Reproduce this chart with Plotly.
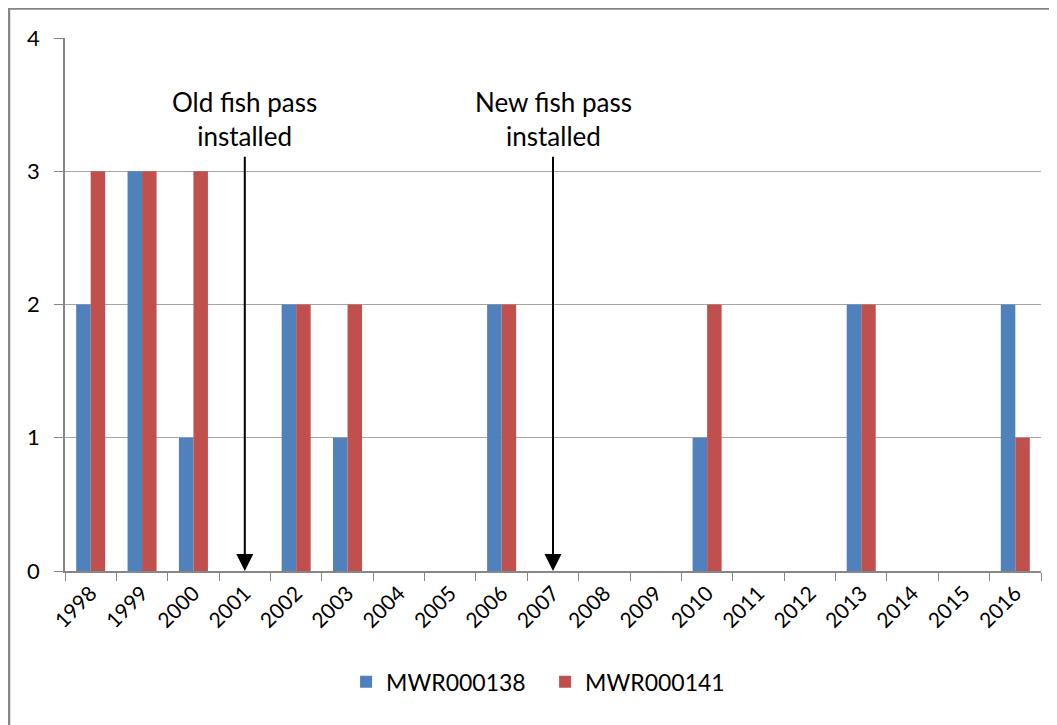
import plotly.graph_objects as go

years = [str(y) for y in range(1998, 2017)]
mwr138 = [2, 3, 1, 0, 2, 1, 0, 0, 2, 0, 0, 0, 1, 0, 0, 2, 0, 0, 2]
mwr141 = [3, 3, 3, 0, 2, 2, 0, 0, 2, 0, 0, 0, 2, 0, 0, 2, 0, 0, 1]
events = [("2001", "Old fish pass<br>installed"), ("2007", "New fish pass<br>installed")]

FONT = "Lato"
W, H = 1057, 725
L, R, T, B = 57, 24, 30, 162
pw, ph = W - L - R, H - T - B

fig = go.Figure()
fig.add_trace(go.Bar(x=years, y=mwr138, name="MWR000138", marker_color="#4F81BD", marker_line_width=0))
fig.add_trace(go.Bar(x=years, y=mwr141, name="MWR000141", marker_color="#C0504D", marker_line_width=0))

for yr, txt in events:
    xi = years.index(yr)
    fig.add_annotation(x=xi, y=0, ax=xi, ay=3.12, xref="x", yref="y", axref="x", ayref="y",
                       text="", showarrow=True, arrowhead=2, arrowsize=1.7, arrowwidth=2,
                       arrowcolor="black", standoff=0)
    fig.add_annotation(x=xi, y=3.39, xref="x", yref="y", text=txt, showarrow=False,
                       font=dict(family=FONT, size=26, color="black"), align="center")

# chart frame
fig.add_shape(type="rect", xref="paper", yref="paper",
              x0=(1 - L) / pw, x1=(W + 30 - L) / pw,
              y0=-(H + 30 - T - ph) / ph, y1=1 + (T - 0.5) / ph,
              line=dict(color="#868686", width=2.5), layer="below")

fig.update_layout(
    width=W, height=H,
    margin=dict(l=L, r=R, t=T, b=B),
    paper_bgcolor="white", plot_bgcolor="white",
    barmode="group", bargap=0.435, bargroupgap=0,
    font=dict(family=FONT, color="black"),
    showlegend=True,
    legend=dict(orientation="h", x=0.288, xanchor="left", y=-0.208, yanchor="middle",
                font=dict(family=FONT, size=23), itemwidth=30, entrywidth=154,
                traceorder="normal"),
    xaxis=dict(type="category", range=[-0.5, len(years) - 0.5], showline=True,
               linecolor="#868686", linewidth=1.5,
               ticks="outside", tickson="boundaries", ticklen=8, tickcolor="#868686",
               tickangle=-45, tickfont=dict(family=FONT, size=21), showgrid=False),
    yaxis=dict(range=[0, 4], dtick=1, showline=True, linecolor="#868686", linewidth=1.5,
               ticks="outside", ticklen=9, tickcolor="#868686",
               gridcolor="#A6A6A6", gridwidth=1, zeroline=False,
               tickfont=dict(family=FONT, size=22), ticklabelstandoff=10),
)

fig.write_html("out.html")
